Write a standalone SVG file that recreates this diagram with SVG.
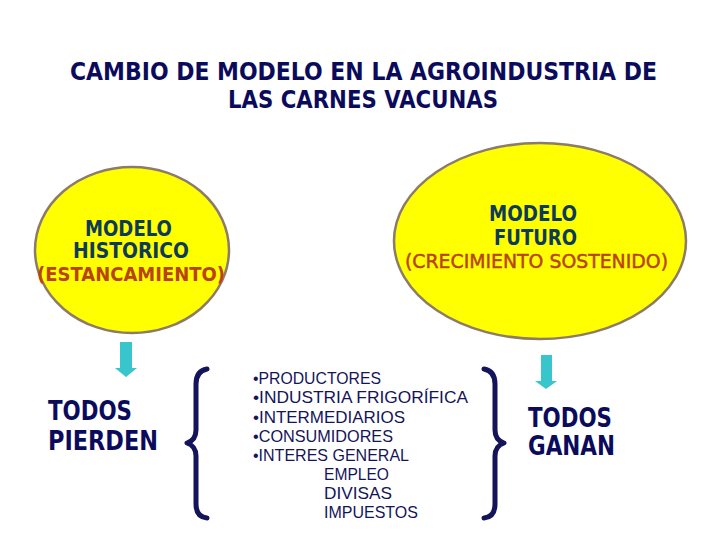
<svg xmlns="http://www.w3.org/2000/svg" width="720" height="540" viewBox="0 0 720 540">
<style>
.title{font-family:"DejaVu Sans","Liberation Sans",sans-serif;font-weight:bold;font-size:24px;fill:#0B0B5C}
.model{font-family:"DejaVu Sans","Liberation Sans",sans-serif;font-weight:bold;font-size:21px;fill:#0D3A58}
.sub{font-family:"DejaVu Sans","Liberation Sans",sans-serif;font-size:20px;fill:#B8430F}
.big{font-family:"DejaVu Sans","Liberation Sans",sans-serif;font-weight:bold;font-size:26px;fill:#0B0B5C}
.list{font-family:"Liberation Sans",Arial,sans-serif;font-size:16.5px;fill:#14145A}
.oval{fill:#FFFF00;stroke:#8C7B66;stroke-width:2.5}
.arrow{fill:#38C5CB}
.brace{fill:none;stroke:#14145A;stroke-width:5;stroke-linecap:round;stroke-linejoin:round}
</style>
<rect width="720" height="540" fill="#FFFFFF"/>
<g id="title">
<text class="title" x="70" y="80" textLength="587" lengthAdjust="spacingAndGlyphs">CAMBIO DE MODELO EN LA AGROINDUSTRIA DE</text>
<text class="title" x="228" y="108" textLength="270" lengthAdjust="spacingAndGlyphs">LAS CARNES VACUNAS</text>
</g>
<g id="modelo-historico">
<ellipse class="oval" cx="132" cy="250" rx="97" ry="83"/>
<text class="model" x="85" y="236" textLength="87" lengthAdjust="spacingAndGlyphs">MODELO</text>
<text class="model" x="73" y="258" textLength="116" lengthAdjust="spacingAndGlyphs">HISTORICO</text>
<text class="sub" x="37" y="281" textLength="188" lengthAdjust="spacingAndGlyphs" font-weight="bold">(ESTANCAMIENTO)</text>
</g>
<g id="modelo-futuro">
<ellipse class="oval" cx="540" cy="241" rx="146" ry="98"/>
<text class="model" x="489" y="221" textLength="88" lengthAdjust="spacingAndGlyphs">MODELO</text>
<text class="model" x="494" y="245" textLength="83" lengthAdjust="spacingAndGlyphs">FUTURO</text>
<text class="sub" x="405" y="268" textLength="263" lengthAdjust="spacingAndGlyphs" stroke="#B8430F" stroke-width="0.5">(CRECIMIENTO SOSTENIDO)</text>
</g>
<g id="connectors">
<polygon class="arrow" points="120,342 132,342 132,368 137,368 126,377 115,368 120,368"/>
<polygon class="arrow" points="541,355 552,355 552,381 557,381 546,389 535,381 541,381"/>
<path class="brace" d="M207,369 Q196,371 196,384 L196,430 Q196,440 187,443 Q196,446 196,456 L196,504 Q196,517 207,518"/>
<path class="brace" d="M484,369 Q495,371 495,384 L495,430 Q495,440 504,443 Q495,446 495,456 L495,504 Q495,517 484,518"/>
</g>
<g id="todos-pierden">
<text class="big" x="48" y="420" textLength="84" lengthAdjust="spacingAndGlyphs">TODOS</text>
<text class="big" x="48" y="450" textLength="110" lengthAdjust="spacingAndGlyphs">PIERDEN</text>
</g>
<g id="todos-ganan">
<text class="big" x="528" y="427" textLength="84" lengthAdjust="spacingAndGlyphs">TODOS</text>
<text class="big" x="528" y="455" textLength="87" lengthAdjust="spacingAndGlyphs">GANAN</text>
</g>
<g id="actores">
<text class="list" x="253" y="384" textLength="128" lengthAdjust="spacingAndGlyphs">•PRODUCTORES</text>
<text class="list" x="253" y="403" textLength="215" lengthAdjust="spacingAndGlyphs">•INDUSTRIA FRIGORÍFICA</text>
<text class="list" x="253" y="423" textLength="152" lengthAdjust="spacingAndGlyphs">•INTERMEDIARIOS</text>
<text class="list" x="253" y="442" textLength="140" lengthAdjust="spacingAndGlyphs">•CONSUMIDORES</text>
<text class="list" x="253" y="461" textLength="156" lengthAdjust="spacingAndGlyphs">•INTERES GENERAL</text>
<text class="list" x="324" y="480" textLength="65" lengthAdjust="spacingAndGlyphs">EMPLEO</text>
<text class="list" x="324" y="499" textLength="68" lengthAdjust="spacingAndGlyphs">DIVISAS</text>
<text class="list" x="324" y="518" textLength="94" lengthAdjust="spacingAndGlyphs">IMPUESTOS</text>
</g>
</svg>
